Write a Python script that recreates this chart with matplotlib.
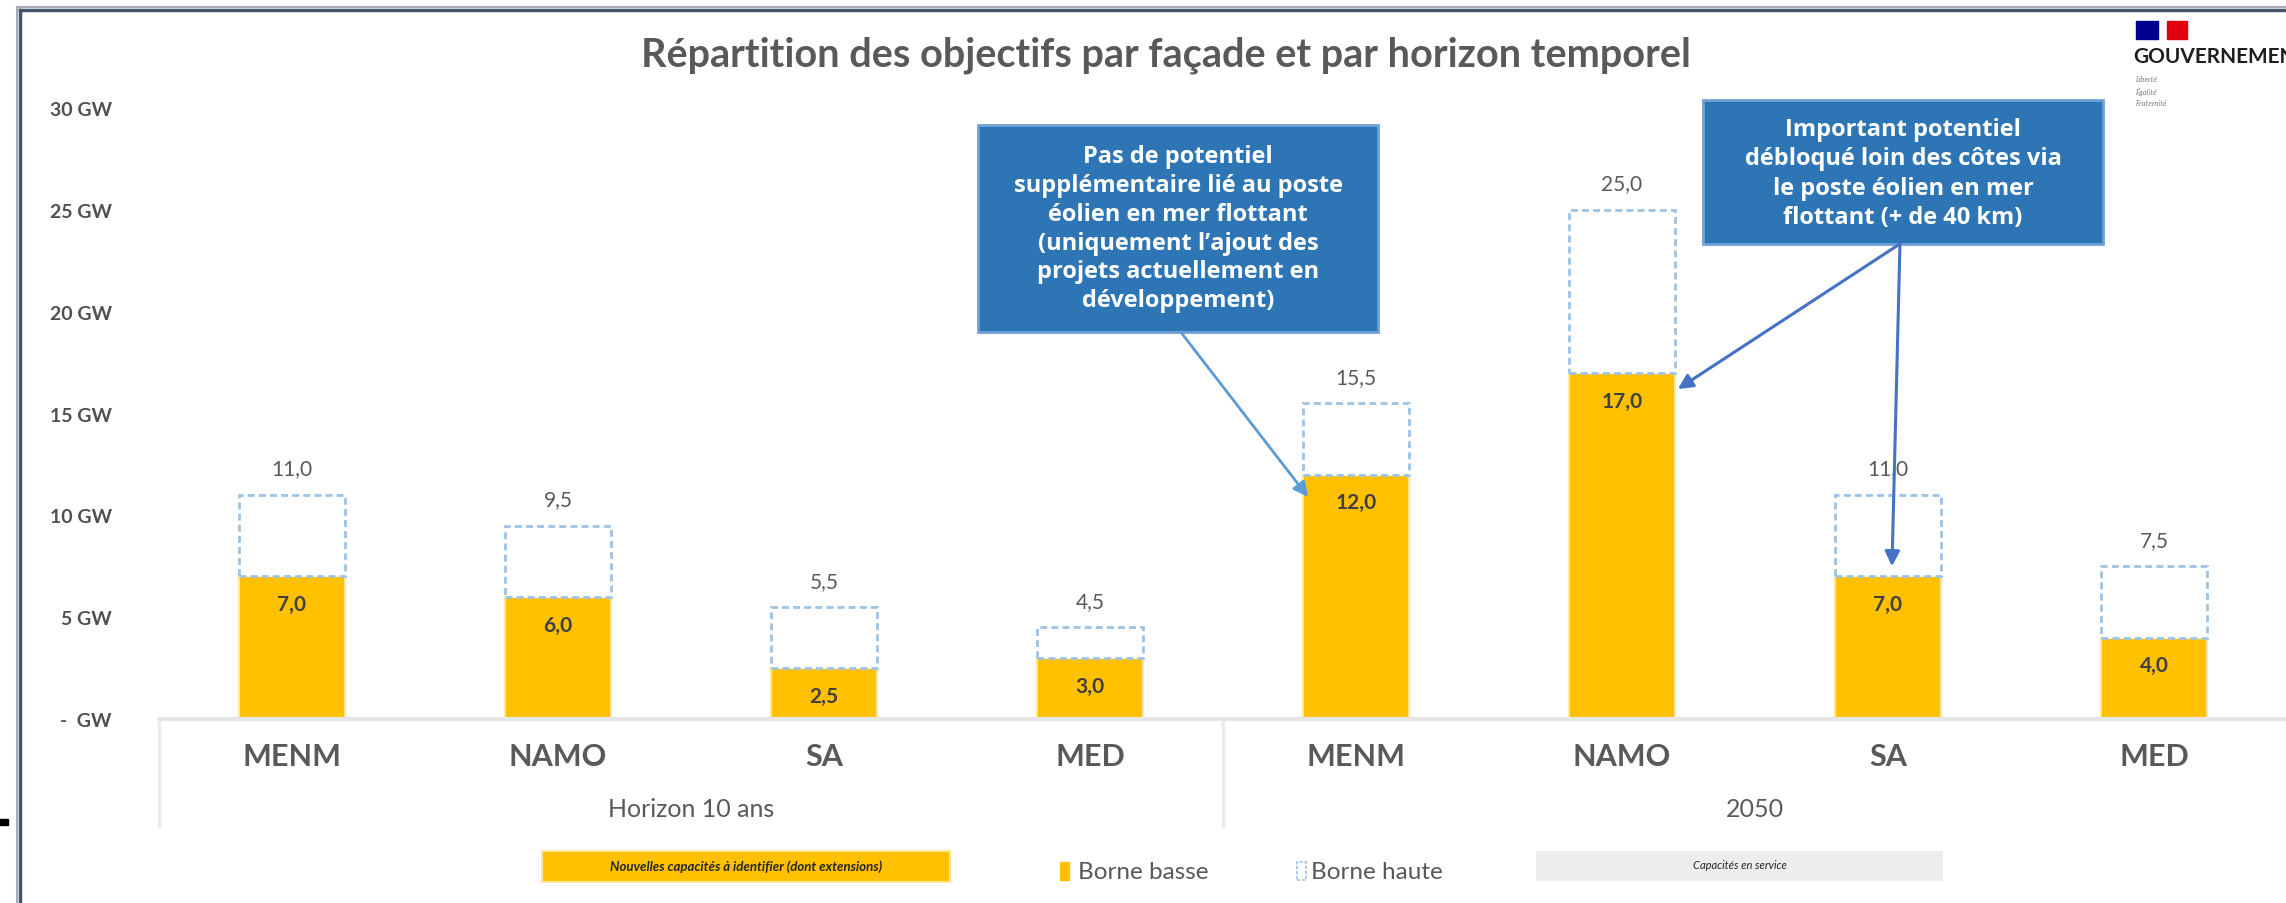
import matplotlib.pyplot as plt
from matplotlib.patches import Rectangle
from matplotlib.lines import Line2D
from matplotlib.transforms import blended_transform_factory

plt.rcParams['font.family'] = ['Lato', 'DejaVu Sans']

# data
facades = ["MENM", "NAMO", "SA", "MED", "MENM", "NAMO", "SA", "MED"]
horizons = ["Horizon 10 ans", "2050"]
borne_basse = [7.0, 6.0, 2.5, 3.0, 12.0, 17.0, 7.0, 4.0]
borne_haute = [11.0, 9.5, 5.5, 4.5, 15.5, 25.0, 11.0, 7.5]
yticks = [0, 5, 10, 15, 20, 25, 30]
ytick_labels = ["-  GW", "5 GW", "10 GW", "15 GW", "20 GW", "25 GW", "30 GW"]

YELLOW = '#ffc000'
DASH_BLUE = '#9dc3e6'
GREY_TXT = '#595959'
BOX_BLUE = '#2e75b6'

W, H = 2286, 904
fig = plt.figure(figsize=(W / 100, H / 100), dpi=100)


def px(x, y):
    # pixel position (top-left origin) -> figure fraction
    return x / W, 1 - y / H


ax = fig.add_axes([159 / W, 1 - 720 / H, (2287 - 159) / W, (720 - 109) / H])
x = list(range(len(facades)))
width = 0.4

ax.bar(x, borne_basse, width=width, color=YELLOW, edgecolor='#ffe699', linewidth=1.5, zorder=2)
ax.bar(x, [h - b for h, b in zip(borne_haute, borne_basse)], width=width, bottom=borne_basse,
       color='white', edgecolor=DASH_BLUE, linewidth=2, linestyle=(0, (2.5, 1.5)), zorder=3)

for xi, b, h in zip(x, borne_basse, borne_haute):
    ax.annotate(f"{b:.1f}".replace('.', ','), (xi, b), xytext=(0, -20), textcoords='offset points',
                ha='center', va='center', fontsize=15, fontweight='bold', color='#404040', zorder=5)
    ax.annotate(f"{h:.1f}".replace('.', ','), (xi, h), xytext=(0, 19), textcoords='offset points',
                ha='center', va='center', fontsize=15, color=GREY_TXT, zorder=5)

ax.set_xlim(-0.5, 7.5)
ax.set_ylim(0, 30)
ax.set_yticks(yticks, ytick_labels)
ax.tick_params(axis='y', length=0, pad=34, labelsize=14, labelcolor='#505050')
for lab in ax.get_yticklabels():
    lab.set_fontweight('bold')
ax.set_xticks([])
for s in ['top', 'right', 'left']:
    ax.spines[s].set_visible(False)
ax.spines['bottom'].set_color('#e7e6e6')
ax.spines['bottom'].set_linewidth(3)

# category axis (two levels)
tr = blended_transform_factory(ax.transData, ax.transAxes)
for xi, lab in zip(x, facades):
    ax.text(xi, -37 / 611, lab, transform=tr, ha='center', va='center', fontsize=22,
            fontweight='bold', color=GREY_TXT)
for i, lab in enumerate(horizons):
    ax.text(1.5 + 4 * i, -90 / 611, lab, transform=tr, ha='center', va='center', fontsize=18,
            color=GREY_TXT)
for xb in [-0.5, 3.5, 7.5]:
    ax.add_line(Line2D([xb, xb], [0, -107 / 611], transform=tr, color='#ebebeb', lw=2.5, clip_on=False))

# annotation boxes
box1 = Rectangle((2.579, 19.02), 4.083 - 2.579, 29.17 - 19.02, facecolor=BOX_BLUE,
                 edgecolor='#6fa0d6', lw=2, clip_on=False, zorder=6)
box2 = Rectangle((5.305, 23.33), 6.808 - 5.305, 30.39 - 23.33, facecolor=BOX_BLUE,
                 edgecolor='#6fa0d6', lw=2, clip_on=False, zorder=6)
ax.add_patch(box1)
ax.add_patch(box2)
ax.text(3.331, 24.1, "Pas de potentiel\nsupplémentaire lié au poste\néolien en mer flottant\n"
        "(uniquement l’ajout des\nprojets actuellement en\ndéveloppement)",
        ha='center', va='center', color='white', fontsize=17, fontweight='bold',
        family=['Open Sans', 'DejaVu Sans'], linespacing=1.27, zorder=7, clip_on=False)
ax.text(6.057, 26.8, "Important potentiel\ndébloqué loin des côtes via\nle poste éolien en mer\n"
        "flottant (+ de 40 km)",
        ha='center', va='center', color='white', fontsize=17, fontweight='bold',
        family=['Open Sans', 'DejaVu Sans'], linespacing=1.3, zorder=7, clip_on=False)

ax.annotate("", xy=(4 - width / 2 + 0.02, borne_basse[4] - 1.1), xytext=(3.34, 19.02),
            arrowprops=dict(arrowstyle='-|>', color='#5b9bd5', lw=2, mutation_scale=22, shrinkA=0, shrinkB=0),
            zorder=6, annotation_clip=False)
ax.annotate("", xy=(5 + width / 2 + 0.01, borne_basse[5] - 0.8), xytext=(6.045, 23.33),
            arrowprops=dict(arrowstyle='-|>', color='#4472c4', lw=2.2, mutation_scale=22, shrinkA=0, shrinkB=0),
            zorder=6, annotation_clip=False)
ax.annotate("", xy=(6.015, borne_basse[6] + 0.5), xytext=(6.045, 23.33),
            arrowprops=dict(arrowstyle='-|>', color='#4472c4', lw=2.2, mutation_scale=22, shrinkA=0, shrinkB=0),
            zorder=6, annotation_clip=False)

# title
fig.text(*px(1166, 55), "Répartition des objectifs par façade et par horizon temporel",
         ha='center', va='center', fontsize=28.5, fontweight='bold', color=GREY_TXT)

# frame lines
fig.add_artist(Line2D([px(17, 0)[0], 1], [px(0, 8)[1]] * 2, color='#a6acb8', lw=1.5))
fig.add_artist(Line2D([px(20, 0)[0], 1], [px(0, 11)[1]] * 2, color='#44546a', lw=2.5))
fig.add_artist(Line2D([px(17, 0)[0]] * 2, [px(0, 8)[1], 0], color='#a6acb8', lw=1.5))
fig.add_artist(Line2D([px(20, 0)[0]] * 2, [px(0, 11)[1], 0], color='#44546a', lw=2.5))
fig.add_artist(Rectangle(px(0, 826), 8 / W, 6 / H, color='black'))

# government logo (cut at the right edge, as in the source)
fig.add_artist(Rectangle(px(2136, 40), 22 / W, 18 / H, color='#000091'))
fig.add_artist(Rectangle(px(2167, 40), 20 / W, 18 / H, color='#e1000f'))
fig.text(*px(2133, 57), "GOUVERNEMENT", ha='left', va='center', fontsize=15, fontweight='bold', color='#1e1e1e')
for i, t in enumerate(["Liberté", "Égalité", "Fraternité"]):
    fig.text(*px(2136, 80 + 12 * i), t, ha='left', va='center', fontsize=5.5, style='italic', color='#808080')

# legend
fig.add_artist(Rectangle(px(542, 883), (950 - 542) / W, 31 / H, facecolor=YELLOW, edgecolor='#ffe699', lw=1.5))
fig.text(*px(746, 867), "Nouvelles capacités à identifier (dont extensions)", ha='center', va='center',
         fontsize=9.5, style='italic', fontweight='bold', color='#262626')
fig.add_artist(Rectangle(px(1060, 881), 9 / W, 18 / H, color=YELLOW))
fig.text(*px(1078, 873), "Borne basse", ha='left', va='center', fontsize=17.5, color=GREY_TXT)
fig.add_artist(Rectangle(px(1297, 881), 9 / W, 18 / H, facecolor='white', edgecolor=DASH_BLUE,
                         lw=1.2, linestyle=(0, (2, 1))))
fig.text(*px(1311, 873), "Borne haute", ha='left', va='center', fontsize=17.5, color=GREY_TXT)
fig.add_artist(Rectangle(px(1536, 882), (1943 - 1536) / W, 30 / H, facecolor='#ededed', edgecolor='none'))
fig.text(*px(1740, 866), "Capacités en service", ha='center', va='center', fontsize=8,
         style='italic', color='#262626')

fig.savefig("out.png", dpi=100)
